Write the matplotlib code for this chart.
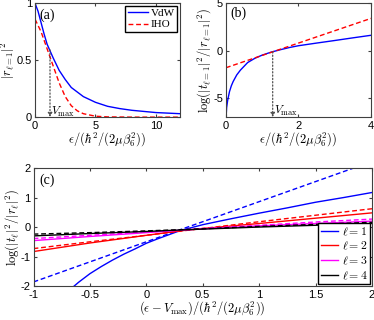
import matplotlib
matplotlib.use("Agg")
import matplotlib.pyplot as plt

plt.rcParams['mathtext.fontset'] = 'cm'
plt.rcParams['font.family'] = 'Liberation Sans'
plt.rcParams['font.size'] = 8
plt.rcParams['xtick.direction'] = 'in'
plt.rcParams['ytick.direction'] = 'in'
plt.rcParams['xtick.top'] = True
plt.rcParams['ytick.right'] = True
plt.rcParams['xtick.major.size'] = 2.5
plt.rcParams['ytick.major.size'] = 2.5
plt.rcParams['xtick.major.pad'] = 2.5
plt.rcParams['ytick.major.pad'] = 2
plt.rcParams['axes.edgecolor'] = '#404040'
plt.rcParams['xtick.color'] = '#404040'
plt.rcParams['ytick.color'] = '#404040'
plt.rcParams['xtick.labelcolor'] = 'black'
plt.rcParams['ytick.labelcolor'] = 'black'

# panel (a): reflection probability
eps_a = [0, 0.25, 0.5, 0.75, 1.0, 1.25, 1.5, 2.0, 2.5, 3.0, 4.0, 5.0, 6.0, 7.0, 8.0, 9.0, 10.0, 11.0, 12.0]
r2_vdw = [1.0, 0.93, 0.83, 0.73, 0.64, 0.58, 0.52, 0.41, 0.33, 0.26, 0.18, 0.13, 0.095, 0.075, 0.06, 0.05, 0.04, 0.035, 0.03]
eps_iho = [0, 0.5, 1.0, 1.5, 2.0, 2.5, 3.0, 3.5, 4.0, 5.0, 6.0, 8.0, 12.0]
r2_iho = [0.86, 0.75, 0.6, 0.45, 0.3, 0.18, 0.1, 0.055, 0.03, 0.008, 0.002, 0.0, 0.0]

# panel (b): log ratio
eps_b = [0.003, 0.02, 0.05, 0.1, 0.15, 0.2, 0.3, 0.4, 0.5, 0.6, 0.8, 1.0, 1.25, 1.5, 1.75, 2.0, 2.5, 3.0, 3.5, 4.0]
L_vdw = [-7.2, -6.0, -5.2, -4.3, -3.7, -3.25, -2.55, -2.05, -1.65, -1.25, -0.8, -0.47, -0.15, 0.1, 0.33, 0.52, 0.8, 1.07, 1.35, 1.62]
eps_b_iho = [0, 1, 2, 3, 4]
L_iho = [-1.8, -0.5, 0.8, 2.1, 3.4]

v_max_a = 1.24
v_max_b = 1.29

# panel (c): log ratio vs eps - Vmax, l = 1..4
x_c = [-1.0, -0.5, 0.0, 0.3, 0.5, 1.0, 1.5, 2.0]
x_c1 = [-0.64, -0.6, -0.5, -0.4, -0.3, -0.2, -0.1, 0.0, 0.1, 0.2, 0.3, 0.5, 0.75, 1.0, 1.25, 1.5, 1.75, 2.0]
l1_solid = [-2.0, -1.87, -1.58, -1.34, -1.12, -0.92, -0.74, -0.55, -0.4, -0.26, -0.12, 0.08, 0.28, 0.47, 0.65, 0.84, 1.0, 1.17]
l1_dash = [-1.86, -1.18, -0.5, -0.09, 0.18, 0.86, 1.54, 2.22]
l2_solid = [-0.83, -0.54, -0.28, -0.13, -0.05, 0.12, 0.3, 0.48]
l2_dash = [-0.73, -0.5, -0.28, -0.14, -0.05, 0.18, 0.4, 0.62]
l3_solid = [-0.46, -0.32, -0.19, -0.11, -0.06, 0.04, 0.12, 0.2]
l3_dash = [-0.39, -0.28, -0.17, -0.1, -0.05, 0.06, 0.17, 0.27]
l4_solid = [-0.3, -0.22, -0.15, -0.1, -0.07, 0.0, 0.06, 0.12]
l4_dash = [-0.24, -0.19, -0.13, -0.09, -0.06, 0.02, 0.09, 0.16]

fig = plt.figure(figsize=(3.74, 3.2), dpi=100)
ax_a = fig.add_axes([0.0936, 0.634, 0.388, 0.356])
ax_b = fig.add_axes([0.604, 0.634, 0.388, 0.356])
ax_c = fig.add_axes([0.0896, 0.106, 0.905, 0.369])

xlab = r'$\epsilon/(\hbar^2/(2\mu\beta_6^2))$'
dash = (0, (3.5, 2))
arrow_kw = dict(arrowstyle='-|>', linestyle=':', color='#505050', lw=0.9, mutation_scale=6, shrinkA=0, shrinkB=0)

# (a)
ax_a.plot(eps_a, r2_vdw, color='blue', lw=1.0, label='VdW')
ax_a.plot(eps_iho, r2_iho, color='red', lw=1.0, linestyle=dash, label='IHO')
ax_a.annotate('', xy=(v_max_a, 0), xytext=(v_max_a, 0.59), arrowprops=arrow_kw)
ax_a.text(v_max_a + 0.1, 0.02, r'$V_{\max}$', fontsize=8.5)
ax_a.text(0.4, 0.86, '(a)', family='Liberation Serif', fontsize=10)
ax_a.set_xlim(0, 12)
ax_a.set_ylim(0, 1)
ax_a.set_xticks([0, 5, 10])
ax_a.set_yticks([0, 0.5, 1])
ax_a.set_yticklabels(['0', '0.5', '1'])
ax_a.set_xlabel(xlab, fontsize=9, labelpad=0)
ax_a.set_ylabel(r'$|r_{\ell=1}|^2$', fontsize=9, labelpad=0)
ax_a.legend(loc='upper right', prop={'family': 'Liberation Serif', 'size': 8}, fancybox=False,
            edgecolor='black', framealpha=1, handlelength=1.8, borderpad=0.2, labelspacing=0.15,
            handletextpad=0.3, borderaxespad=0.25)

# (b)
ax_b.plot(eps_b, L_vdw, color='blue', lw=1.0)
ax_b.plot(eps_b_iho, L_iho, color='red', lw=1.0, linestyle=dash)
ax_b.annotate('', xy=(v_max_b, -7), xytext=(v_max_b, -0.12), arrowprops=arrow_kw)
ax_b.text(v_max_b + 0.03, -6.7, r'$V_{\max}$', fontsize=8.5)
ax_b.text(0.12, 3.6, '(b)', family='Liberation Serif', fontsize=10)
ax_b.set_xlim(0, 4)
ax_b.set_ylim(-7, 5)
ax_b.set_xticks([0, 2, 4])
ax_b.set_yticks([-5, 0, 5])
ax_b.set_yticklabels(['-5', '0', '5'])
ax_b.set_xlabel(xlab, fontsize=9, labelpad=0)
ax_b.set_ylabel(r'$\log(|t_{\ell=1}|^2/|r_{\ell=1}|^2)$', fontsize=9, labelpad=0)

# (c)
ax_c.plot(x_c1, l1_solid, color='blue', lw=1.0, label=r'$\ell=1$')
ax_c.plot(x_c, l1_dash, color='blue', lw=1.0, linestyle=dash)
ax_c.plot(x_c, l2_solid, color='red', lw=1.0, label=r'$\ell=2$')
ax_c.plot(x_c, l2_dash, color='red', lw=1.0, linestyle=dash)
ax_c.plot(x_c, l3_solid, color='magenta', lw=1.0, label=r'$\ell=3$')
ax_c.plot(x_c, l3_dash, color='magenta', lw=1.0, linestyle=dash)
ax_c.plot(x_c, l4_solid, color='black', lw=1.0, label=r'$\ell=4$')
ax_c.plot(x_c, l4_dash, color='black', lw=1.0, linestyle=dash)
ax_c.text(-0.95, 1.45, '(c)', family='Liberation Serif', fontsize=10)
ax_c.set_xlim(-1, 2)
ax_c.set_ylim(-2, 2)
ax_c.set_xticks([-1, -0.5, 0, 0.5, 1, 1.5, 2])
ax_c.set_xticklabels(['-1', '-0.5', '0', '0.5', '1', '1.5', '2'])
ax_c.set_yticks([-2, -1, 0, 1, 2])
ax_c.set_yticklabels(['-2', '-1', '0', '1', '2'])
ax_c.set_xlabel(r'$(\epsilon-V_{\max})/(\hbar^2/(2\mu\beta_6^2))$', fontsize=9, labelpad=0)
ax_c.set_ylabel(r'$\log(|t_\ell|^2/|r_\ell|^2)$', fontsize=9, labelpad=0)
ax_c.legend(loc='lower right', prop={'size': 8.5}, fancybox=False, edgecolor='black', framealpha=1,
            handlelength=1.5, borderpad=0.2, labelspacing=0.2, handletextpad=0.3, borderaxespad=0.15)

fig.savefig('out.png', dpi=100)
